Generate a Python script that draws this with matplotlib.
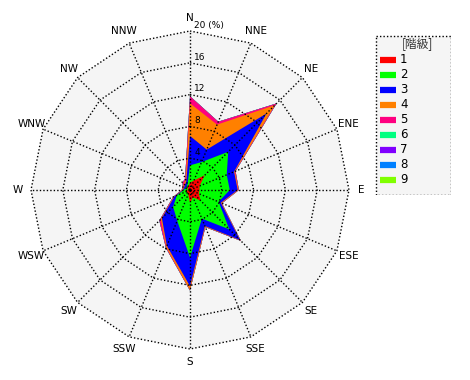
import numpy as np
import matplotlib
matplotlib.use("Agg")
import matplotlib.pyplot as plt
from matplotlib.patches import Polygon, Rectangle

plt.rcParams['font.family'] = ['DejaVu Sans', 'Noto Sans CJK JP']

# 16 wind directions, clockwise from north
directions = ['N', 'NNE', 'NE', 'ENE', 'E', 'ESE', 'SE', 'SSE',
              'S', 'SSW', 'SW', 'WSW', 'W', 'WNW', 'NW', 'NNW']

# cumulative frequency (%) up to each class
class1 = [0.9, 1.3, 2.6, 1.3, 1.2, 1.2, 1.9, 1.0, 1.6, 0.6, 0.5, 0.4, 0.3, 0.3, 0.4, 0.5]
class2 = [3.1, 3.8, 6.8, 5.0, 5.0, 3.9, 7.0, 3.9, 8.5, 4.2, 3.0, 1.8, 0.8, 0.6, 0.6, 0.8]
class3 = [6.8, 5.5, 13.6, 6.0, 6.0, 4.2, 8.9, 4.9, 12.1, 7.6, 5.0, 2.1, 0.9, 0.8, 0.9, 1.2]
class4 = [10.9, 8.9, 15.1, 6.1, 6.1, 4.3, 9.0, 5.0, 12.6, 7.8, 5.2, 2.2, 1.0, 0.9, 1.1, 1.4]
class5 = [11.8, 9.3, 15.4, 6.2, 6.15, 4.35, 9.05, 5.05, 12.65, 7.9, 5.45, 2.3, 1.05, 1.0, 1.3, 1.6]
class6 = class5
class7 = class5
class8 = class5
class9 = class5

classes = [class1, class2, class3, class4, class5, class6, class7, class8, class9]
class_labels = ['1', '2', '3', '4', '5', '6', '7', '8', '9']
colors = ['#ff0000', '#00ff00', '#0000ff', '#ff8000', '#ff0080',
          '#00ff80', '#8000ff', '#0080ff', '#80ff00']

ring_values = [4, 8, 12, 16, 20]
ring_labels = ['4', '8', '12', '16', '20 (%)']

W, H = 470, 380
fig = plt.figure(figsize=(W / 100, H / 100), dpi=100)

# center of rose at (190, 190) px, radius 20% -> 159 px
cx, cy, rpx = 190, 190, 180
scale = 159 / 20.0
lim = rpx / scale
ax = fig.add_axes([(cx - rpx) / W, (H - cy - rpx) / H, 2 * rpx / W, 2 * rpx / H])
ax.set_xlim(-lim, lim)
ax.set_ylim(-lim, lim)
ax.axis('off')

ang = np.deg2rad(np.arange(16) * 22.5)
sx, sy = np.sin(ang), np.cos(ang)


def xy(vals):
    v = np.asarray(vals)
    return np.column_stack([v * sx, v * sy])


# background
ax.add_patch(Polygon(xy([20] * 16), closed=True, facecolor='#f5f5f5',
                     edgecolor='none', zorder=0))

# stacked polygons, largest first
for i in range(len(classes) - 1, -1, -1):
    ax.add_patch(Polygon(xy(classes[i]), closed=True, facecolor=colors[i],
                         edgecolor='none', zorder=1 + (8 - i) * 0.01))

dots = (0, (1, 1.5))
for r in ring_values:
    pts = xy([r] * 16)
    pts = np.vstack([pts, pts[:1]])
    ax.plot(pts[:, 0], pts[:, 1], color='black', lw=1, ls=dots, zorder=3)
for k in range(16):
    ax.plot([0, 20 * sx[k]], [0, 20 * sy[k]], color='black', lw=1, ls=dots, zorder=3)

for r, lab in zip(ring_values, ring_labels):
    ax.text(0.55, r + 0.15, lab, fontsize=6.5, ha='left', va='bottom', zorder=4)

for k, d in enumerate(directions):
    ax.text(21.6 * sx[k], 21.6 * sy[k], d, fontsize=7.5, ha='center', va='center')

# legend box
lx0, ly0, lx1, ly1 = 375, 35, 451, 195
lax = fig.add_axes([lx0 / W, (H - ly1) / H, (lx1 - lx0) / W, (ly1 - ly0) / H])
lax.set_xlim(lx0, lx1)
lax.set_ylim(ly1, ly0)
lax.axis('off')
lax.add_patch(Rectangle((lx0 + 0.5, ly0 + 0.5), lx1 - lx0 - 1, ly1 - ly0 - 1,
                        facecolor='#f5f5f5', edgecolor='black', lw=1, ls=dots))
lax.text(417, 44, '[階級]', fontsize=8.5, ha='center', va='center',
         family=['Noto Sans CJK JP', 'DejaVu Sans'], color='#333333')
for i, lab in enumerate(class_labels):
    y = 59.5 + i * 15
    lax.plot([380, 396], [y, y], color=colors[i], lw=4.5, solid_capstyle='butt')
    lax.text(400, y, lab, fontsize=8.5, ha='left', va='center')

fig.savefig('out.png', dpi=100)
